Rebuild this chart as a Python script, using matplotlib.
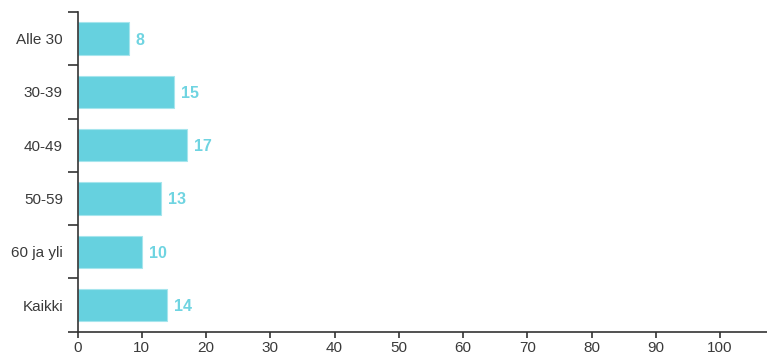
import matplotlib
matplotlib.use("Agg")
import matplotlib.pyplot as plt
import numpy as np

categories = ["Alle 30", "30-39", "40-49", "50-59", "60 ja yli", "Kaikki"]
values = [8, 15, 17, 13, 10, 14]
x_ticks = [0, 10, 20, 30, 40, 50, 60, 70, 80, 90, 100]

plt.rcParams['font.family'] = ['Liberation Sans', 'DejaVu Sans']

fig = plt.figure(figsize=(7.67, 3.59), dpi=100)
W, H = 767, 359
left, right, top, bottom = 77.5, 767, 12, 331.7
ax = fig.add_axes([left / W, (H - bottom) / H, (right - left) / W, (bottom - top) / H])

bar_color = "#66D1DF"
label_color = "#6FD4E1"
text_color = "#3a3a3a"

y = np.arange(len(categories))
ax.barh(y, values, height=0.61, color=bar_color, edgecolor="#A6E5ED", linewidth=0.8)

for yi, v in zip(y, values):
    ax.annotate(str(v), xy=(v, yi), xytext=(5, -1), textcoords="offset points",
                ha="left", va="center", color=label_color, fontsize=11.5, fontweight="bold")

ax.set_xlim(0, 107.3)
ax.set_ylim(len(categories) - 0.5, -0.5)

ax.set_xticks(x_ticks)
ax.set_xticklabels([str(t) for t in x_ticks])
ax.tick_params(axis="x", length=4.5, width=1.2, color="#333333", labelcolor=text_color,
               labelsize=11, pad=2.5)

ax.set_yticks(np.arange(-0.5, len(categories), 1.0))
ax.set_yticklabels([])
ax.set_yticks(y, minor=True)
ax.set_yticklabels(categories, minor=True)
ax.tick_params(axis="y", which="major", length=7, width=1.2, color="#333333")
ax.tick_params(axis="y", which="minor", length=0, labelcolor=text_color, labelsize=11, pad=10.5)

for s in ["top", "right"]:
    ax.spines[s].set_visible(False)
for s in ["left", "bottom"]:
    ax.spines[s].set_color("#333333")
    ax.spines[s].set_linewidth(1.2)

fig.savefig("out.png", dpi=100)
